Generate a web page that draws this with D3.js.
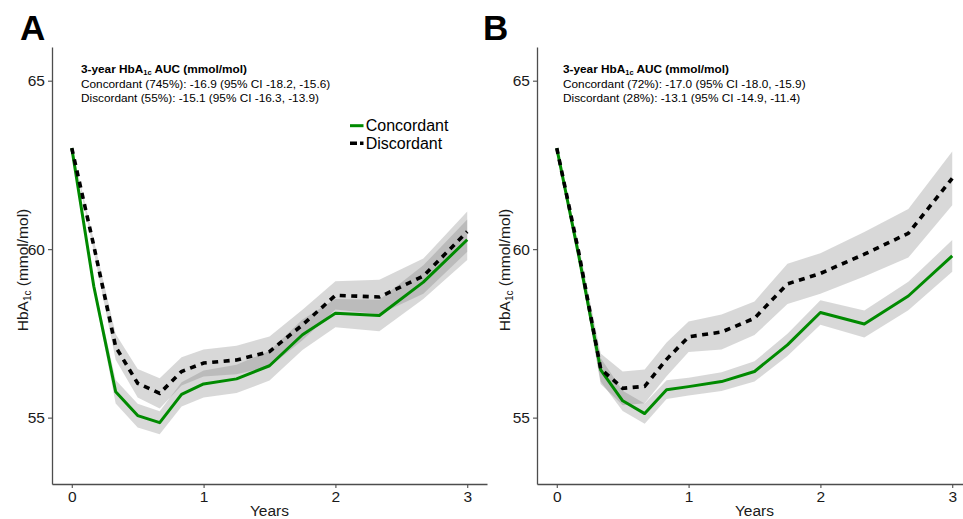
<!DOCTYPE html>
<html>
<head>
<meta charset="utf-8">
<script src="https://cdn.jsdelivr.net/npm/d3@7"></script>
<style>
body{margin:0;background:#fff}
svg{display:block}
text{font-family:"Liberation Sans",Arial,Helvetica,sans-serif}
</style>
</head>
<body>
<div id="chart"></div>
<script>
// visit times (years)
var years = [0, 0.167, 0.333, 0.5, 0.667, 0.833, 1, 1.25, 1.5, 1.75, 2, 2.333, 2.667, 3];
var xTicks = [0, 1, 2, 3];
var yTicks = [55, 60, 65];

// panel A
var concA   = [63.0, 58.9, 55.77, 55.06, 54.85, 55.69, 56.0, 56.15, 56.54, 57.46, 58.1, 58.03, 59.02, 60.28];
var concA_h = [0, 0.12, 0.35, 0.35, 0.34, 0.36, 0.4, 0.42, 0.44, 0.45, 0.42, 0.47, 0.5, 0.6];
var discA   = [63.0, 60.1, 57.1, 56.02, 55.72, 56.37, 56.62, 56.71, 56.96, 57.75, 58.63, 58.58, 59.2, 60.52];
var discA_h = [0, 0.18, 0.38, 0.42, 0.45, 0.42, 0.4, 0.42, 0.45, 0.45, 0.42, 0.51, 0.52, 0.6];
var notesA  = ["Concordant (745%): -16.9 (95% CI -18.2, -15.6)", "Discordant (55%): -15.1 (95% CI -16.3, -13.9)"];

// panel B
var concB   = [63.0, 59.8, 56.42, 55.5, 55.12, 55.83, 55.92, 56.07, 56.37, 57.16, 58.12, 57.78, 58.61, 59.8];
var concB_h = [0, 0.12, 0.35, 0.3, 0.3, 0.28, 0.26, 0.28, 0.3, 0.33, 0.36, 0.4, 0.42, 0.47];
var discB   = [63.0, 59.9, 56.45, 55.87, 55.93, 56.73, 57.4, 57.54, 57.95, 58.97, 59.28, 59.85, 60.47, 62.1];
var discB_h = [0, 0.2, 0.45, 0.5, 0.5, 0.5, 0.45, 0.52, 0.5, 0.6, 0.6, 0.66, 0.72, 0.8];
var notesB  = ["Concordant (72%): -17.0 (95% CI -18.0, -15.9)", "Discordant (28%): -13.1 (95% CI -14.9, -11.4)"];

var groups = ["Concordant", "Discordant"];

var GREEN = "#008a00";
var svg = d3.select("#chart").append("svg")
    .attr("width", 963)
    .attr("height", 519);

var top_ = 47, bottom_ = 484;

function rows(v, h){
    return years.map(function(t, i){ return {t: t, v: v[i], h: h[i]}; });
}

// p: letter, letterX, left, right, labelX, noteX, legend
function ShowPanel(p, conc, concH, disc, discH, notes){
    var left = p.left, right = p.right;
    var x = d3.scaleLinear().domain([-0.15, 3.15]).range([left, right]);
    var y = d3.scaleLinear().domain([53.03, 66.0]).range([bottom_, top_]);
    var g = svg.append("g");

    var area = d3.area().x(function(d){return x(d.t)})
        .y0(function(d){return y(d.v - d.h)})
        .y1(function(d){return y(d.v + d.h)});
    var line = d3.line().x(function(d){return x(d.t)}).y(function(d){return y(d.v)});

    var c = rows(conc, concH), dd = rows(disc, discH);

    // ribbons first, then lines
    [c, dd].forEach(function(r){
        g.append("path").datum(r).attr("d", area)
            .attr("fill", "#6e6e6e").attr("fill-opacity", 0.27);
    });
    g.append("path").datum(c).attr("d", line)
        .attr("fill", "none").attr("stroke", GREEN).attr("stroke-width", 3)
        .attr("stroke-linejoin", "round");
    g.append("path").datum(dd).attr("d", line)
        .attr("fill", "none").attr("stroke", "#000").attr("stroke-width", 3.6)
        .attr("stroke-dasharray", "6,5.5");

    // axes
    var ax = g.append("g").attr("transform", "translate(0," + bottom_ + ")")
        .call(d3.axisBottom(x).tickValues(xTicks).tickFormat(d3.format("d")).tickSize(4).tickSizeOuter(0).tickPadding(3));
    var ay = g.append("g").attr("transform", "translate(" + left + ",0)")
        .call(d3.axisLeft(y).tickValues(yTicks).tickSize(4).tickSizeOuter(0).tickPadding(3));
    [ax, ay].forEach(function(a){
        a.select(".domain").attr("stroke", "#4d4d4d").attr("stroke-width", 1.3);
        a.selectAll(".tick line").attr("stroke", "#4d4d4d").attr("stroke-width", 1.1);
        a.selectAll(".tick text").attr("font-size", "15.5px").attr("fill", "#1a1a1a")
            .style("font-family", "'Liberation Sans',Arial,sans-serif");
    });

    // axis titles
    g.append("text").attr("x", (left + right) / 2).attr("y", 516)
        .attr("text-anchor", "middle").attr("font-size", "15.5px").attr("fill", "#1a1a1a")
        .text("Years");
    var yl = g.append("text")
        .attr("transform", "translate(" + p.labelX + ",270) rotate(-90)")
        .attr("text-anchor", "middle").attr("font-size", "15.5px").attr("fill", "#1a1a1a");
    yl.append("tspan").text("HbA");
    yl.append("tspan").attr("font-size", "10px").attr("dy", 3).text("1c");
    yl.append("tspan").attr("dy", -3).text(" (mmol/mol)");

    // panel letter
    g.append("text").attr("x", p.letterX).attr("y", 40)
        .attr("font-size", "35px").attr("font-weight", "bold").attr("fill", "#000")
        .text(p.letter);

    // AUC notes
    var nx = p.noteX;
    var t0 = g.append("text").attr("x", nx).attr("y", 72.7)
        .attr("font-size", "11.8px").attr("font-weight", "bold").attr("fill", "#000");
    t0.append("tspan").text("3-year HbA");
    t0.append("tspan").attr("font-size", "7.5px").attr("dy", 2).text("1c");
    t0.append("tspan").attr("dy", -2).text(" AUC (mmol/mol)");
    notes.forEach(function(s, i){
        g.append("text").attr("x", nx).attr("y", 87.5 + i * 14.5)
            .attr("font-size", "11.8px").attr("fill", "#000").text(s);
    });

    if (p.legend){
        var lg = g.append("g").attr("transform", "translate(350,125.7)");
        groups.forEach(function(name, i){
            var k = lg.append("g").attr("transform", "translate(0," + (i * 17.6) + ")");
            k.append("line").attr("x1", 0).attr("x2", 13.5).attr("y1", 0).attr("y2", 0)
                .attr("stroke", i == 0 ? GREEN : "#000")
                .attr("stroke-width", i == 0 ? 3 : 3.6)
                .attr("stroke-dasharray", i == 0 ? null : "7,3");
            k.append("text").attr("x", 15.7).attr("y", 5.6)
                .attr("font-size", "16px").attr("fill", "#000").text(name);
        });
    }
}

ShowPanel({letter: "A", letterX: 20, left: 52, right: 487, labelX: 28, noteX: 81, legend: true},
    concA, concA_h, discA, discA_h, notesA);
ShowPanel({letter: "B", letterX: 483, left: 537, right: 972, labelX: 510, noteX: 563, legend: false},
    concB, concB_h, discB, discB_h, notesB);
</script>
</body>
</html>
